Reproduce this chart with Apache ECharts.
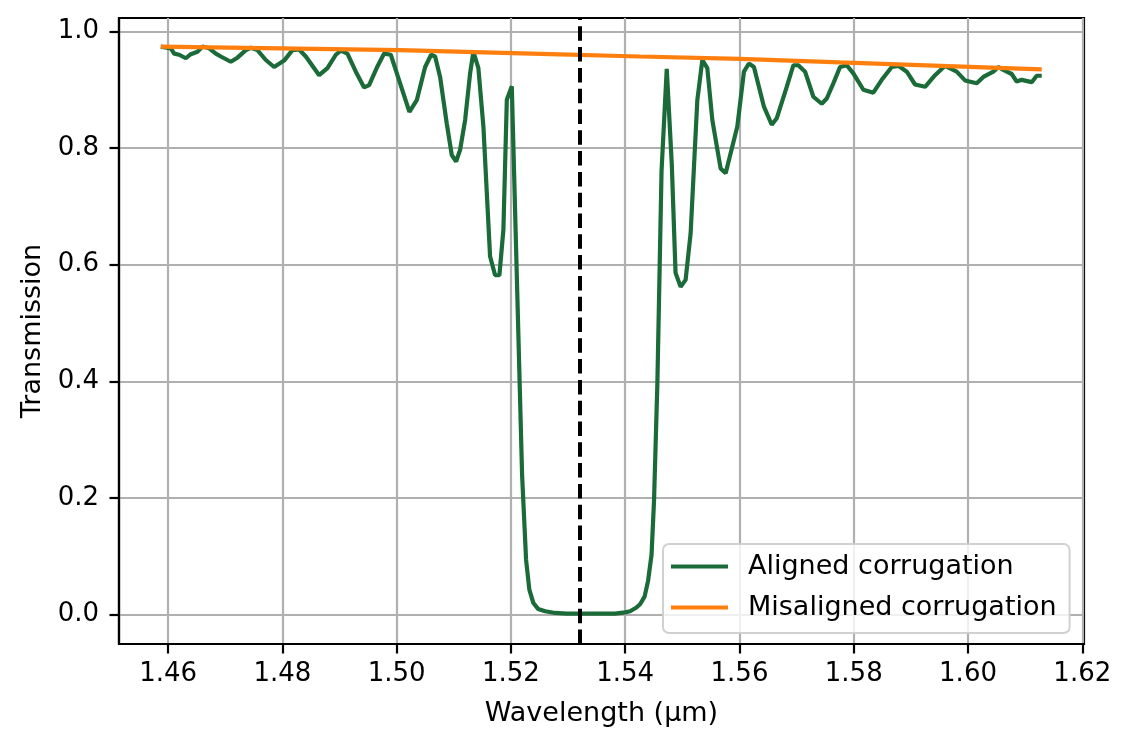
<!DOCTYPE html>
<html lang="en">
<head>
<meta charset="utf-8" />
<title>Transmission spectrum</title>
<script src="https://cdn.jsdelivr.net/npm/echarts@6/dist/echarts.min.js"></script>
<style>
  html, body { margin: 0; padding: 0; background: #fff; }
  #chart { width: 1132px; height: 748px; }
</style>
</head>
<body>
<div id="chart"></div>
<script type="text/javascript">
// wavelength (um) and transmission
const alignedWl = [
  1.45872, 1.46047, 1.46105, 1.46193, 1.46310, 1.46397, 1.46513, 1.46600, 1.46718, 1.46835,
  1.46922, 1.47097, 1.47213, 1.47360, 1.47447, 1.47563, 1.47710, 1.47855, 1.48030, 1.48175,
  1.48293, 1.48410, 1.48643, 1.48788, 1.48935, 1.49022, 1.49138, 1.49285, 1.49430, 1.49518,
  1.49663, 1.49780, 1.49897, 1.50013, 1.50223, 1.50352, 1.50498, 1.50603, 1.50673, 1.50760,
  1.50877, 1.50965, 1.51040, 1.51110, 1.51198, 1.51285, 1.51343, 1.51430, 1.51518, 1.51635,
  1.51723, 1.51798, 1.51868, 1.51928, 1.52015, 1.52195, 1.52265, 1.52322, 1.52393, 1.52475,
  1.52600, 1.52773, 1.52978, 1.53300, 1.53560, 1.53822, 1.53998, 1.54085, 1.54190, 1.54260,
  1.54339, 1.54400, 1.54461, 1.54505, 1.54563, 1.54636, 1.54727, 1.54815, 1.54881, 1.54970,
  1.55057, 1.55145, 1.55262, 1.55350, 1.55437, 1.55525, 1.55670, 1.55758, 1.55845, 1.55962,
  1.56078, 1.56165, 1.56253, 1.56428, 1.56565, 1.56652, 1.56827, 1.56943, 1.57030, 1.57148,
  1.57293, 1.57440, 1.57528, 1.57643, 1.57760, 1.57877, 1.57993, 1.58168, 1.58343, 1.58490,
  1.58665, 1.58781, 1.58928, 1.59073, 1.59248, 1.59423, 1.59598, 1.59802, 1.59948, 1.60152,
  1.60268, 1.60443, 1.60530, 1.60618, 1.60765, 1.60852, 1.60940, 1.61115, 1.61202, 1.61290
];
const alignedT = [
  0.974, 0.971, 0.962, 0.960, 0.954, 0.961, 0.965, 0.974, 0.971, 0.962,
  0.957, 0.948, 0.955, 0.968, 0.972, 0.968, 0.951, 0.939, 0.950, 0.968,
  0.969, 0.957, 0.925, 0.937, 0.960, 0.967, 0.962, 0.931, 0.904, 0.908,
  0.940, 0.962, 0.960, 0.925, 0.862, 0.882, 0.939, 0.960, 0.957, 0.922,
  0.842, 0.788, 0.777, 0.797, 0.848, 0.928, 0.965, 0.937, 0.837, 0.614,
  0.582, 0.582, 0.660, 0.883, 0.906, 0.240, 0.094, 0.043, 0.020, 0.010,
  0.006, 0.003, 0.002, 0.002, 0.002, 0.002, 0.004, 0.006, 0.012, 0.018,
  0.031, 0.058, 0.103, 0.197, 0.397, 0.761, 0.936, 0.773, 0.586, 0.562,
  0.574, 0.654, 0.882, 0.951, 0.937, 0.848, 0.765, 0.757, 0.791, 0.837,
  0.931, 0.945, 0.939, 0.871, 0.840, 0.851, 0.905, 0.942, 0.942, 0.931,
  0.888, 0.876, 0.885, 0.911, 0.939, 0.942, 0.928, 0.900, 0.895, 0.917,
  0.939, 0.941, 0.931, 0.909, 0.905, 0.925, 0.941, 0.931, 0.916, 0.911,
  0.922, 0.931, 0.939, 0.934, 0.927, 0.914, 0.917, 0.913, 0.924, 0.924
];
const misalignedWl = [1.45872, 1.50060, 1.52685, 1.54260, 1.56010, 1.57760, 1.61290];
const misalignedT = [0.974, 0.968, 0.961, 0.957, 0.953, 0.947, 0.935];
const markerWl = 1.532;
const seriesNames = ['Aligned corrugation', 'Misaligned corrugation'];
const xTicks = [1.46, 1.48, 1.50, 1.52, 1.54, 1.56, 1.58, 1.60, 1.62];
const yTicks = [0.0, 0.2, 0.4, 0.6, 0.8, 1.0];

const font = 'DejaVu Sans';

function pairs(xs, ys) {
    const out = [];
    for (let i = 0; i < xs.length; i++) out.push([xs[i], ys[i]]);
    return out;
}

const myChart = echarts.init(document.getElementById('chart'), null, {renderer: 'canvas'});
const option = {
    animation: false,
    backgroundColor: '#ffffff',
    textStyle: {fontFamily: font},
    grid: {
        left: 119, right: 48, top: 18, bottom: 104,
        show: true, borderColor: '#000', borderWidth: 2.2, backgroundColor: 'transparent'
    },
    legend: {
        data: seriesNames,
        orient: 'vertical',
        left: 663, top: 544,
        icon: 'rect',
        itemWidth: 57, itemHeight: 4,
        itemGap: 10,
        padding: [7, 13, 10, 8],
        backgroundColor: 'rgba(255,255,255,0.8)',
        borderColor: 'rgba(204,204,204,0.9)',
        borderWidth: 2, borderRadius: 6,
        textStyle: {fontFamily: font, fontSize: 27, color: '#000', lineHeight: 31, padding: [0, 0, 0, 15]}
    },
    xAxis: {
        type: 'value',
        min: 1.4514, max: 1.6203,
        name: 'Wavelength (µm)', nameLocation: 'middle', nameGap: 56,
        nameTextStyle: {fontFamily: font, fontSize: 27, color: '#000'},
        axisLine: {onZero: false, lineStyle: {color: '#000', width: 2.2}},
        axisTick: {customValues: xTicks, length: 9.5, lineStyle: {color: '#000', width: 2.2}},
        axisLabel: {
            customValues: xTicks, margin: 17, fontFamily: font, fontSize: 26, color: '#000',
            formatter: function (v) { return v.toFixed(2); }
        },
        splitLine: {show: true, lineStyle: {color: '#b0b0b0', width: 2.2}}
    },
    yAxis: {
        type: 'value',
        min: -0.0502, max: 1.023,
        name: 'Transmission', nameLocation: 'middle', nameGap: 73, nameRotate: 90,
        nameTextStyle: {fontFamily: font, fontSize: 27, color: '#000'},
        axisLine: {onZero: false, lineStyle: {color: '#000', width: 2.2}},
        axisTick: {customValues: yTicks, length: 9.5, lineStyle: {color: '#000', width: 2.2}},
        axisLabel: {
            customValues: yTicks, margin: 20, fontFamily: font, fontSize: 26, color: '#000',
            formatter: function (v) { return v.toFixed(1); }
        },
        splitLine: {show: true, lineStyle: {color: '#b0b0b0', width: 2.2}}
    },
    series: [
        {
            name: seriesNames[0],
            type: 'line',
            data: pairs(alignedWl, alignedT),
            showSymbol: false,
            color: '#1a6b38',
            lineStyle: {width: 4.2, color: '#1a6b38'}
        },
        {
            name: seriesNames[1],
            type: 'line',
            data: pairs(misalignedWl, misalignedT),
            showSymbol: false,
            color: '#ff7f0e',
            lineStyle: {width: 4.2, color: '#ff7f0e'},
            markLine: {
                silent: true,
                precision: 4,
                symbol: ['none', 'none'],
                label: {show: false},
                lineStyle: {color: '#000', type: [14.5, 6.3], width: 4},
                data: [{xAxis: markerWl}]
            }
        }
    ]
};
myChart.setOption(option);
</script>
</body>
</html>
